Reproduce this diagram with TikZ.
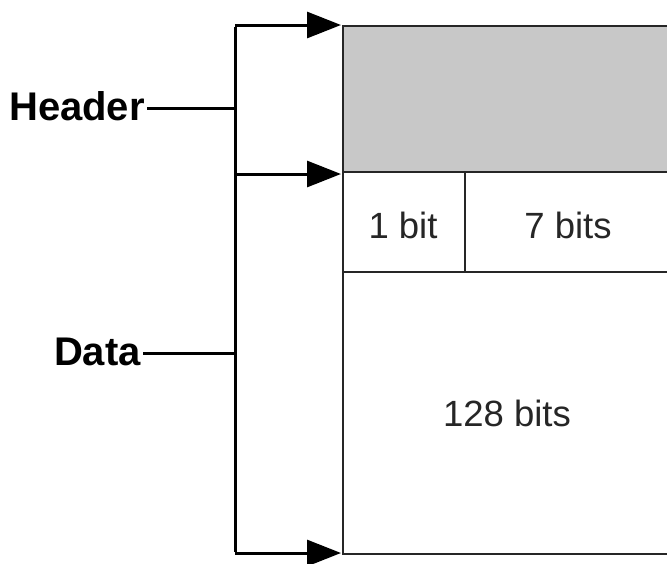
\documentclass[tikz,border=0pt]{standalone}
\usepackage{fontspec}
\setmainfont{Liberation Sans}
\usetikzlibrary{arrows.meta}
\definecolor{hdrgrey}{HTML}{C8C8C8}
\tikzset{
  cell/.style={draw=black!85, line width=2pt, anchor=north west, inner sep=0pt},
  celltext/.style={font=\fontsize{36.5}{40}\selectfont, text=black!85, inner sep=0pt},
  lbl/.style={font=\bfseries\fontsize{40}{44}\selectfont, anchor=east, inner sep=2pt},
  brace/.style={line width=3pt, black},
  arr/.style={line width=3pt, black, -{Triangle[length=34pt,width=26pt]}, shorten >=1pt},
}
\begin{document}
\begin{tikzpicture}[x=1pt,y=-1pt]
\useasboundingbox[fill=white] (0,0) rectangle (667,563);
\clip (0,0) rectangle (667,563);
\node[cell, fill=hdrgrey, minimum width=400pt, minimum height=146pt] (hdr) at (342,25) {};
\node[cell, minimum width=122pt, minimum height=100pt] (c1) at (342,171) {};
\node[cell, minimum width=278pt, minimum height=100pt] (c2) at (464,171) {};
\node[cell, minimum width=400pt, minimum height=282pt] (big) at (342,271) {};
\node[celltext] (t1) at (403,225) {1 bit};
\node[celltext] (t7) at (568,225) {7 bits};
\node[celltext] (t128) at (507,413) {128 bits};
\node[lbl] (hl) at (147,106) {Header};
\node[lbl] (dl) at (143,352) {Data};
\coordinate (top) at (235,25);
\coordinate (mid) at (235,174);
\coordinate (bot) at (235,553);
\draw[brace] ([yshift=-1.5pt]top) -- ([yshift=1.5pt]bot);
\draw[arr] (top) -- (hdr.north west |- top);
\draw[arr] (mid) -- (c1.north west |- mid);
\draw[arr] (bot) -- (big.south west |- bot);
\draw[brace] (hl.east |- 0,108) -- (top |- 0,108);
\draw[brace] (dl.east |- 0,353) -- (top |- 0,353);
\end{tikzpicture}
\end{document}
